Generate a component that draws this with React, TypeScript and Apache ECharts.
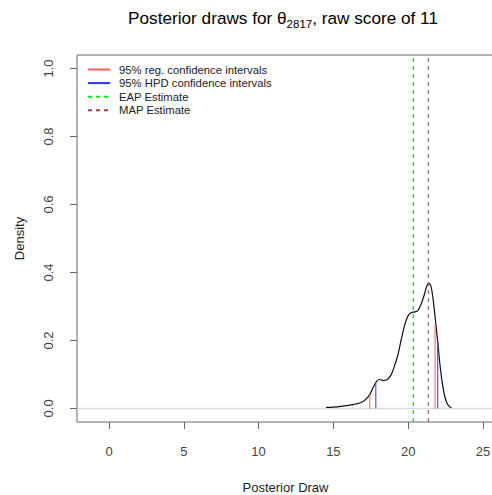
import React, { useEffect, useRef } from "react";
import * as echarts from "echarts";

// Kernel density of the posterior draws (x = draw, y = density)
const densityX = [14.51, 15.0, 15.5, 16.0, 16.5, 16.9, 17.2, 17.45, 17.7, 17.9, 18.1, 18.35, 18.6, 18.85, 19.05, 19.3, 19.55, 19.8, 20.0, 20.2, 20.45, 20.65, 20.85, 21.05, 21.25, 21.4, 21.55, 21.7, 21.85, 22.0, 22.15, 22.3, 22.45, 22.6, 22.75, 22.9];
const densityY = [0.003, 0.004, 0.006, 0.009, 0.013, 0.018, 0.028, 0.042, 0.065, 0.08, 0.085, 0.082, 0.085, 0.098, 0.12, 0.155, 0.205, 0.25, 0.273, 0.282, 0.284, 0.288, 0.305, 0.33, 0.36, 0.368, 0.355, 0.31, 0.25, 0.185, 0.12, 0.07, 0.035, 0.015, 0.006, 0.002];

// 95% interval bounds and the density height at each bound
const regBounds = [17.44, 21.8];
const regHeights = [0.043, 0.245];
const hpdBounds = [17.84, 21.98];
const hpdHeights = [0.075, 0.2];

const eapEstimate = 20.35;
const mapEstimate = 21.35;

const xTicks = [0, 5, 10, 15, 20, 25];
const yTicks = [0, 0.2, 0.4, 0.6, 0.8, 1.0];

const FONT = "Arial, 'Liberation Sans', sans-serif";

export default function App() {
  const ref = useRef<HTMLDivElement>(null);

  useEffect(() => {
    if (!ref.current) return;
    const chart = echarts.init(ref.current, undefined, { renderer: "svg" });

    const segment = (name: string, x: number, h: number, color: string) => ({
      name,
      type: "line",
      data: [[x, 0], [x, h]],
      symbol: "none",
      lineStyle: { color, width: 1 },
      itemStyle: { color },
      z: 4,
    });

    const vline = (name: string, x: number, color: string, width: number) => ({
      name,
      type: "line",
      data: [[x, -0.04], [x, 1.04]],
      symbol: "none",
      lineStyle: { color, width, type: [4, 4] },
      itemStyle: { color },
      z: 5,
    });

    chart.setOption({
      animation: false,
      backgroundColor: "#ffffff",
      title: {
        text: "{a|Posterior draws for θ}{b|2817}{a|, raw score of 11}",
        left: 278,
        top: 3,
        textAlign: "center",
        textStyle: {
          rich: {
            a: { fontFamily: FONT, fontSize: 17.2, fontWeight: "normal", color: "#000", lineHeight: 22, verticalAlign: "bottom", padding: [0, 0, 4, 0] },
            b: { fontFamily: FONT, fontSize: 11.5, fontWeight: "normal", color: "#000", lineHeight: 22, verticalAlign: "bottom" },
          },
        },
      },
      legend: {
        orient: "vertical",
        left: 87,
        top: 64,
        padding: 0,
        itemWidth: 22,
        itemHeight: 10,
        itemGap: 2.6,
        itemStyle: { opacity: 0 },
        data: ["95% reg. confidence intervals", "95% HPD confidence intervals", "EAP Estimate", "MAP Estimate"],
        textStyle: { fontFamily: FONT, fontSize: 11.3, color: "#222", padding: [0, 0, 0, 4] },
        selectedMode: false,
      },
      grid: {
        left: 77,
        right: -2,
        top: 55,
        bottom: 73,
        outerBoundsMode: "none",
        show: true,
        borderColor: "#666",
        borderWidth: 1,
        backgroundColor: "transparent",
      },
      xAxis: {
        type: "value",
        min: -2.14,
        max: 25.74,
        name: "Posterior Draw",
        nameLocation: "middle",
        nameGap: 59,
        nameTextStyle: { fontFamily: FONT, fontSize: 13, color: "#222" },
        axisLine: { show: false, onZero: false },
        splitLine: { show: false },
        axisTick: { show: true, length: 7, lineStyle: { color: "#666" }, customValues: xTicks },
        axisLabel: { fontFamily: FONT, fontSize: 13, color: "#444", margin: 23, customValues: xTicks, formatter: (v: number) => String(v) },
      },
      yAxis: {
        type: "value",
        min: -0.04,
        max: 1.04,
        name: "Density",
        nameLocation: "middle",
        nameGap: 51,
        nameTextStyle: { fontFamily: FONT, fontSize: 13, color: "#222" },
        axisLine: { show: false, onZero: false },
        splitLine: { show: false },
        axisTick: { show: true, length: 7, lineStyle: { color: "#666" }, customValues: yTicks },
        axisLabel: { fontFamily: FONT, fontSize: 13, color: "#444", rotate: 90, margin: 22, customValues: yTicks, formatter: (v: number) => v.toFixed(1) },
      },
      series: [
        {
          name: "zero",
          type: "line",
          data: [[-2.14, 0], [25.74, 0]],
          symbol: "none",
          lineStyle: { color: "#d9d9d9", width: 1.5 },
          z: 1,
          silent: true,
        },
        {
          name: "density",
          type: "line",
          data: densityX.map((x, i) => [x, densityY[i]]),
          symbol: "none",
          smooth: 0.3,
          lineStyle: { color: "#111", width: 1.2 },
          z: 3,
        },
        segment("95% reg. confidence intervals", regBounds[0], regHeights[0], "#ff5a5a"),
        segment("95% reg. confidence intervals", regBounds[1], regHeights[1], "#ff5a5a"),
        segment("95% HPD confidence intervals", hpdBounds[0], hpdHeights[0], "#3030ff"),
        segment("95% HPD confidence intervals", hpdBounds[1], hpdHeights[1], "#3030ff"),
        vline("EAP Estimate", eapEstimate, "#00ee00", 1.4),
        vline("MAP Estimate", mapEstimate, "#9e4040", 1),
      ],
    });

    return () => chart.dispose();
  }, []);

  return <div ref={ref} style={{ width: 492, height: 495, position: "absolute", left: 0, top: 0 }} />;
}
